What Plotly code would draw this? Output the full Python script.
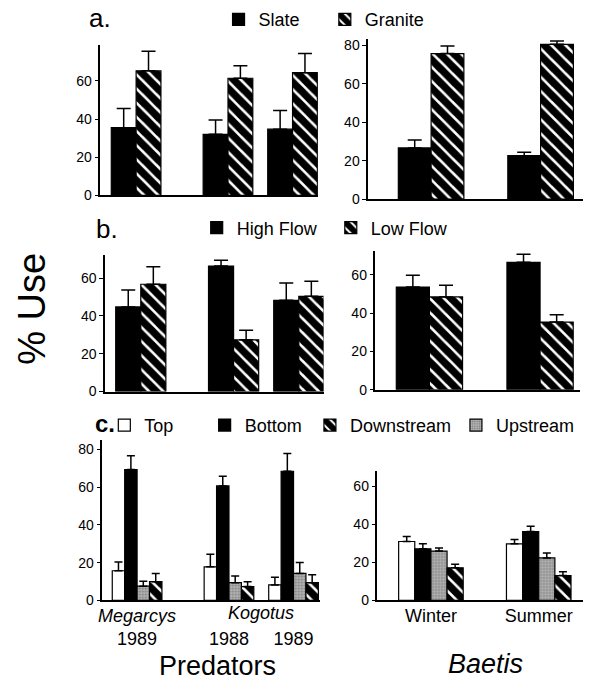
import plotly.graph_objects as go

W, H = 595, 687
FONT = "Liberation Sans"

# ---------------- data ----------------
pred_groups = ["Megarcys 1989", "Kogotus 1988", "Kogotus 1989"]
pred_x = [1, 2.85, 4.15]
pred_tick_text = ["<i>Megarcys</i><br>1989", "<i>\u00a0</i><br>1988", "<i>\u00a0</i><br>1989"]
baetis_groups = ["Winter", "Summer"]
baetis_x = [1, 2.67]

# a. substrate
slate_pred = [35.5, 32.0, 34.7]
slate_pred_err = [10.0, 7.5, 9.8]
granite_pred = [65.3, 61.4, 64.3]
granite_pred_err = [10.2, 6.6, 10.0]
slate_baetis = [26.6, 22.6]
slate_baetis_err = [4.1, 1.7]
granite_baetis = [75.7, 80.5]
granite_baetis_err = [3.9, 1.7]

# b. flow
high_pred = [44.7, 66.3, 48.2]
high_pred_err = [9.0, 3.1, 9.2]
low_pred = [56.7, 27.3, 50.3]
low_pred_err = [9.2, 5.1, 8.0]
high_baetis = [53.5, 66.4]
high_baetis_err = [6.2, 4.2]
low_baetis = [48.4, 35.3]
low_baetis_err = [6.1, 3.8]

# c. position on stone
top_pred = [15.7, 17.8, 8.2]
top_pred_err = [4.7, 6.6, 4.0]
bottom_pred = [69.4, 60.7, 68.5]
bottom_pred_err = [7.3, 5.2, 9.4]
up_pred = [7.5, 9.4, 14.3]
up_pred_err = [2.6, 3.5, 5.8]
down_pred = [9.9, 7.3, 9.4]
down_pred_err = [4.4, 2.6, 4.2]
top_baetis = [30.9, 29.7]
top_baetis_err = [2.6, 2.3]
bottom_baetis = [27.1, 36.1]
bottom_baetis_err = [2.6, 2.8]
up_baetis = [25.9, 22.3]
up_baetis_err = [1.6, 2.6]
down_baetis = [17.1, 13.0]
down_baetis_err = [1.9, 2.0]

# ---------------- styles ----------------
BLACK = dict(color="black", line=dict(color="black", width=1.2))
HATCH = dict(color="white", line=dict(color="black", width=1.2),
             pattern=dict(shape="\\", fgcolor="#000000", bgcolor="#ffffff", fgopacity=1,
                          size=10, solidity=0.75))
WHITE = dict(color="white", line=dict(color="black", width=1.2))
GRAY = dict(color="#a8a8a8", line=dict(color="black", width=1.2),
            pattern=dict(shape=".", fgcolor="#444444", bgcolor="#b4b4b4", size=3, solidity=0.35))

fig = go.Figure()


def add_bar(x, y, err, style, xa, ya, off, wid, name, legend=None, capw=6):
    fig.add_trace(go.Bar(
        x=x, y=y, name=name, marker=style, offset=off, width=wid,
        xaxis=xa, yaxis=ya,
        error_y=dict(type="data", array=err, arrayminus=[0] * len(err), symmetric=False,
                     color="black", thickness=1.5, width=capw),
        showlegend=legend is not None, legend=legend if legend else "legend",
    ))


# panel a
add_bar(pred_x, slate_pred, slate_pred_err, BLACK, "x", "y", -0.5, 0.5, "Slate", "legend", 7)
add_bar(pred_x, granite_pred, granite_pred_err, HATCH, "x", "y", 0.0, 0.5, "Granite", "legend2", 7)
add_bar(baetis_x, slate_baetis, slate_baetis_err, BLACK, "x2", "y2", -0.5, 0.5, "Slate", None, 7)
add_bar(baetis_x, granite_baetis, granite_baetis_err, HATCH, "x2", "y2", 0.0, 0.5, "Granite", None, 7)
# panel b
add_bar(pred_x, high_pred, high_pred_err, BLACK, "x3", "y3", -0.5, 0.5, "High Flow", "legend3", 7)
add_bar(pred_x, low_pred, low_pred_err, HATCH, "x3", "y3", 0.0, 0.5, "Low Flow", "legend4", 7)
add_bar(baetis_x, high_baetis, high_baetis_err, BLACK, "x4", "y4", -0.5, 0.5, "High Flow", None, 7)
add_bar(baetis_x, low_baetis, low_baetis_err, HATCH, "x4", "y4", 0.0, 0.5, "Low Flow", None, 7)
# panel c
add_bar(pred_x, top_pred, top_pred_err, WHITE, "x5", "y5", -0.5, 0.25, "Top", "legend5", 4)
add_bar(pred_x, bottom_pred, bottom_pred_err, BLACK, "x5", "y5", -0.25, 0.25, "Bottom", "legend6", 4)
add_bar(pred_x, up_pred, up_pred_err, GRAY, "x5", "y5", 0.0, 0.25, "Upstream", "legend8", 4)
add_bar(pred_x, down_pred, down_pred_err, HATCH, "x5", "y5", 0.25, 0.25, "Downstream", "legend7", 4)
add_bar(baetis_x, top_baetis, top_baetis_err, WHITE, "x6", "y6", -0.5, 0.25, "Top", None, 4)
add_bar(baetis_x, bottom_baetis, bottom_baetis_err, BLACK, "x6", "y6", -0.25, 0.25, "Bottom", None, 4)
add_bar(baetis_x, up_baetis, up_baetis_err, GRAY, "x6", "y6", 0.0, 0.25, "Upstream", None, 4)
add_bar(baetis_x, down_baetis, down_baetis_err, HATCH, "x6", "y6", 0.25, 0.25, "Downstream", None, 4)


def px_x(p):
    return p / W


def px_y(p):
    return 1 - p / H


# panel boxes in pixels: (x0, x1, ytop, ybottom), x range, y range, y ticks
panels = [
    ((97, 316, 45, 197), [0.28, 4.66], [0, 78.6], [0, 20, 40, 60]),
    ((366.7, 583, 38.3, 200.7), [0.041, 3.318], [0, 83.4], [0, 20, 40, 60, 80]),
    ((101.7, 321.7, 257.7, 395.7), [0.287, 4.643], [0, 72], [0, 20, 40, 60]),
    ((374, 580, 253.3, 394), [0.186, 3.274], [0, 72.3], [0, 20, 40, 60]),
    ((99, 318, 445, 607.3), [0.3, 4.68], [0, 85], [0, 20, 40, 60, 80]),
    ((376, 583, 476.7, 607.3), [0.172, 3.357], [0, 67.7], [0, 20, 40, 60]),
]

layout = dict(
    width=W, height=H, margin=dict(l=0, r=0, t=0, b=0),
    paper_bgcolor="white", plot_bgcolor="white",
    barmode="overlay", font=dict(family=FONT, color="black", size=14),
)
for i, (box, xr, yr, yt) in enumerate(panels, start=1):
    sfx = "" if i == 1 else str(i)
    x0, x1, yt0, yb0 = box
    xa = dict(domain=[px_x(x0), px_x(x1)], range=xr, anchor="y" + sfx,
              showline=True, linecolor="black", linewidth=1.5, showgrid=False,
              zeroline=False, ticks="", showticklabels=False, fixedrange=True)
    if i == 5:
        xa.update(showticklabels=True, tickvals=pred_x, ticktext=pred_tick_text,
                  tickfont=dict(size=18, family=FONT), ticklabelstandoff=-2)
    if i == 6:
        xa.update(showticklabels=True, tickvals=baetis_x, ticktext=baetis_groups,
                  tickfont=dict(size=18, family=FONT), ticklabelstandoff=-2)
    ya = dict(domain=[px_y(yb0), px_y(yt0)], range=yr, anchor="x" + sfx,
              showline=True, linecolor="black", linewidth=1.5, showgrid=False,
              zeroline=False, ticks="outside", ticklen=4, tickwidth=1, tickcolor="black",
              tickvals=yt, tickfont=dict(size=14, family=FONT), fixedrange=True)
    layout["xaxis" + sfx] = xa
    layout["yaxis" + sfx] = ya

# legends: (key, text start px, center y px)
legend_specs = [
    ("legend", 258, 19), ("legend2", 365, 19),
    ("legend3", 236, 230), ("legend4", 371, 230),
    ("legend5", 143, 430), ("legend6", 244, 430),
    ("legend7", 350, 430), ("legend8", 497, 430),
]
for key, tx, cy in legend_specs:
    layout[key] = dict(x=px_x(tx - 42), y=px_y(cy), xanchor="left", yanchor="middle",
                       orientation="h", bgcolor="rgba(0,0,0,0)", borderwidth=0,
                       font=dict(size=18, family=FONT, color="black"))

fig.update_layout(**layout)

ann = [
    dict(text="a.", x=px_x(97), y=px_y(17), font=dict(size=26)),
    dict(text="b.", x=px_x(104), y=px_y(231), font=dict(size=26)),
    dict(text="<b>c.</b>", x=px_x(102), y=px_y(428), font=dict(size=24)),
    dict(text="% Use", x=px_x(28), y=px_y(312), font=dict(size=38), textangle=-90),
    dict(text="Predators", x=px_x(215), y=px_y(674), font=dict(size=27)),
    dict(text="<i>Baetis</i>", x=px_x(485), y=px_y(672), font=dict(size=27)),
]
for a in ann:
    a.update(xref="paper", yref="paper", showarrow=False, xanchor="center", yanchor="middle")
    a["font"].update(family=FONT, color="black")
    fig.add_annotation(**a)

# Kogotus label centred under its two groups
fig.add_annotation(text="<i>Kogotus</i>", x=(pred_x[1] + pred_x[2]) / 2, xref="x5",
                   y=px_y(620), yref="paper", showarrow=False, xanchor="center",
                   yanchor="middle", font=dict(size=18, family=FONT, color="black"))

fig.write_html("out.html", config={"displayModeBar": False},
               post_script="document.body.style.margin='0';document.body.style.overflow='hidden';")
